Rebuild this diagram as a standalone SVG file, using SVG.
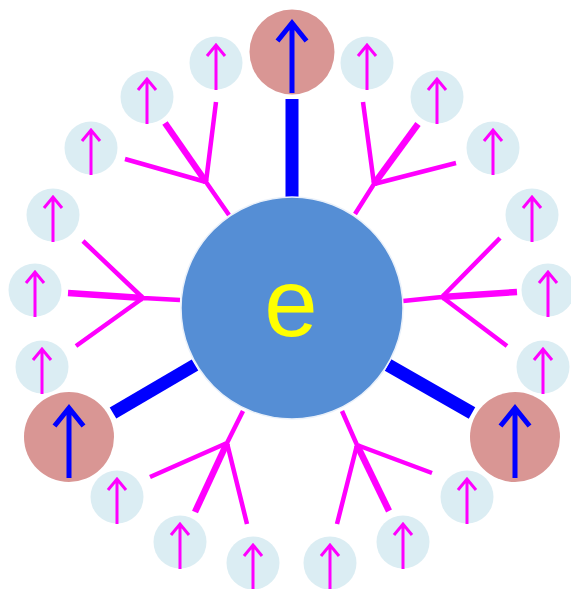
<svg xmlns="http://www.w3.org/2000/svg" width="571" height="589" viewBox="0 0 571 589">
<style>
.small{fill:#dbedf3}
.big{fill:#d99694}
.sa{fill:none;stroke:#ff00ff;stroke-width:3;stroke-linecap:butt}
.ba{fill:none;stroke:#0000ff;stroke-width:5}
.bl{stroke:#0000ff;stroke-width:13}
.fk{fill:none;stroke:#ff00ff;stroke-width:4.5}
.fm{fill:none;stroke:#ff00ff;stroke-width:6.5}
</style>
<defs>
<g id="sArrow"><circle class="small" r="26.5"/><path class="sa" d="M0,27V-18M-9,-7L0,-18L9,-7"/></g>
<g id="bArrow"><path class="ba" d="M0,41V-29M-14.5,-11L0,-29L14.5,-11"/></g>
</defs>
<rect width="571" height="589" fill="#fff"/>
<g id="connectors">
<line class="bl" x1="292" y1="99" x2="292" y2="197"/>
<line class="bl" x1="113" y1="413" x2="195" y2="365"/>
<line class="bl" x1="388" y1="365" x2="472" y2="413"/>
<path class="fk" d="M229,215L206,182M216,102L206,182M125,159L206,182"/>
<path class="fm" d="M165,123L206,182"/>
<path class="fk" d="M355,214L374,184M363,102L374,184M456,163L374,184"/>
<path class="fm" d="M418,124L374,184"/>
<path class="fk" d="M180,300L143,298M83,241L143,298M76,346L143,298"/>
<path class="fm" d="M68,293L143,298"/>
<path class="fk" d="M403,301L442,297M500,238L442,297M507,346L442,297"/>
<path class="fm" d="M517,292L442,297"/>
<path class="fk" d="M243,411L227,443M150,477L227,443M247,524L227,443"/>
<path class="fm" d="M195,512L227,443"/>
<path class="fk" d="M342,411L357,445M432,473L357,445M337,524L357,445"/>
<path class="fm" d="M389,511L357,445"/>
</g>
<g id="electron"><circle cx="292" cy="308" r="111" fill="#558ed5" stroke="#eaf1fa" stroke-width="1.5"/>
<text x="291" y="336" font-family="Liberation Sans, Arial, sans-serif" font-size="96" fill="#ffff00" text-anchor="middle">e</text></g>
<g id="bigTop"><circle class="big" cx="292" cy="52" r="42.5"/><use href="#bArrow" x="292" y="52"/></g>
<g id="bigLeft"><circle class="big" cx="69" cy="437" r="45"/><use href="#bArrow" x="69" y="437"/></g>
<g id="bigRight"><circle class="big" cx="515" cy="437" r="45"/><use href="#bArrow" x="515" y="437"/></g>
<g id="s1"><use href="#sArrow" x="216" y="63"/></g>
<g id="s2"><use href="#sArrow" x="367" y="63"/></g>
<g id="s3"><use href="#sArrow" x="147" y="97"/></g>
<g id="s4"><use href="#sArrow" x="91" y="148"/></g>
<g id="s5"><use href="#sArrow" x="437" y="97"/></g>
<g id="s6"><use href="#sArrow" x="493" y="148"/></g>
<g id="s7"><use href="#sArrow" x="53" y="215"/></g>
<g id="s8"><use href="#sArrow" x="35" y="290"/></g>
<g id="s9"><use href="#sArrow" x="42" y="367"/></g>
<g id="s10"><use href="#sArrow" x="532" y="215"/></g>
<g id="s11"><use href="#sArrow" x="548" y="290"/></g>
<g id="s12"><use href="#sArrow" x="543" y="367"/></g>
<g id="s13"><use href="#sArrow" x="117" y="497"/></g>
<g id="s14"><use href="#sArrow" x="180" y="542"/></g>
<g id="s15"><use href="#sArrow" x="253" y="563"/></g>
<g id="s16"><use href="#sArrow" x="467" y="497"/></g>
<g id="s17"><use href="#sArrow" x="403" y="542"/></g>
<g id="s18"><use href="#sArrow" x="330" y="563"/></g>
</svg>
